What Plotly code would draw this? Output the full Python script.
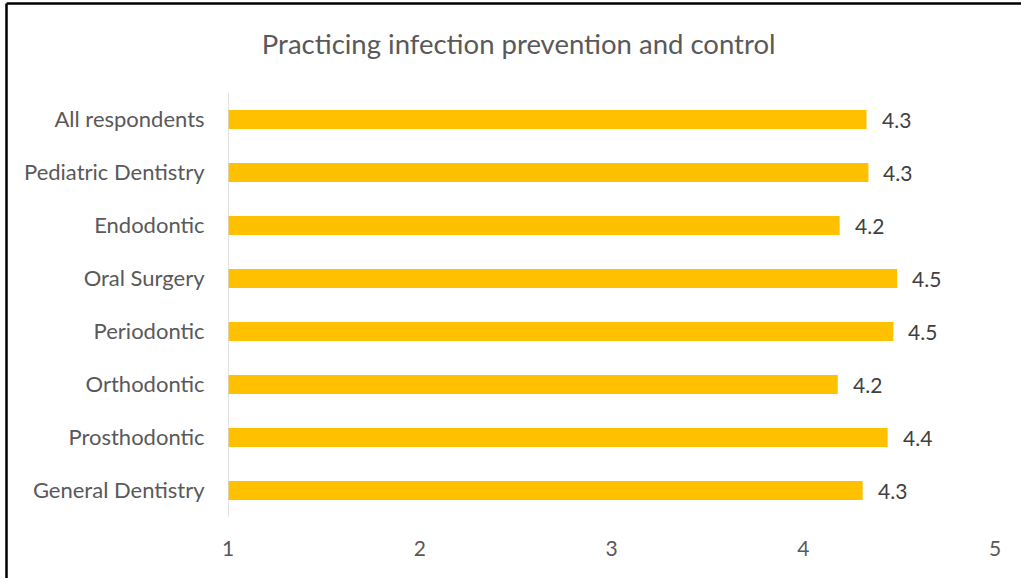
import plotly.graph_objects as go

categories = ["General Dentistry", "Prosthodontic", "Orthodontic", "Periodontic",
              "Oral Surgery", "Endodontic", "Pediatric Dentistry", "All respondents"]
values = [4.31, 4.44, 4.18, 4.47, 4.49, 4.19, 4.34, 4.33]
x_ticks = [1, 2, 3, 4, 5]

W, H = 1021, 578
ml, mr, mt, mb = 228, 26, 93, 61
pw, ph = W - ml - mr, H - mt - mb
FONT = "Lato"

fig = go.Figure()
fig.add_trace(go.Bar(
    x=values, y=categories, orientation="h",
    marker=dict(color="#FFC000", line=dict(width=0)),
    hoverinfo="x+y",
))

for v, c in zip(values, categories):
    fig.add_annotation(x=v, y=c, text=f"{v:.1f}", showarrow=False,
                       xanchor="left", xshift=13,
                       font=dict(family=FONT, size=21, color="#404040"))

def px_x(p):
    return (p - ml) / pw

def px_y(p):
    return (H - mb - p) / ph

fig.add_shape(type="line", xref="paper", yref="paper",
              x0=px_x(6.5), x1=px_x(1021), y0=px_y(3.5), y1=px_y(3.5),
              line=dict(color="black", width=2.5))
fig.add_shape(type="line", xref="paper", yref="paper",
              x0=px_x(6.5), x1=px_x(6.5), y0=px_y(3.5), y1=px_y(578),
              line=dict(color="black", width=2.5))

fig.update_layout(
    width=W, height=H,
    margin=dict(l=ml, r=mr, t=mt, b=mb),
    paper_bgcolor="white", plot_bgcolor="white",
    bargap=0.64,
    showlegend=False,
    title=dict(text="Practicing infection prevention and control",
               x=0.508, xanchor="center", y=0.924, yanchor="middle",
               font=dict(family=FONT, size=27.5, color="#595959")),
    xaxis=dict(range=[1, 5], tickvals=x_ticks, showgrid=False, zeroline=False,
               showline=False, ticks="outside", ticklen=13, tickcolor="rgba(0,0,0,0)",
               tickfont=dict(family=FONT, size=21, color="#595959")),
    yaxis=dict(showgrid=False, zeroline=False, showline=False, ticks="outside",
               ticklen=18, tickcolor="rgba(0,0,0,0)",
               tickfont=dict(family=FONT, size=22, color="#595959")),
)
fig.add_shape(type="line", xref="x", yref="paper", x0=1, x1=1, y0=0, y1=1,
              line=dict(color="#D9D9D9", width=1.5))

fig.write_html("out.html", config={"displayModeBar": False},
               post_script="document.body.style.margin='0';document.body.style.overflow='hidden';document.documentElement.style.overflow='hidden';")
